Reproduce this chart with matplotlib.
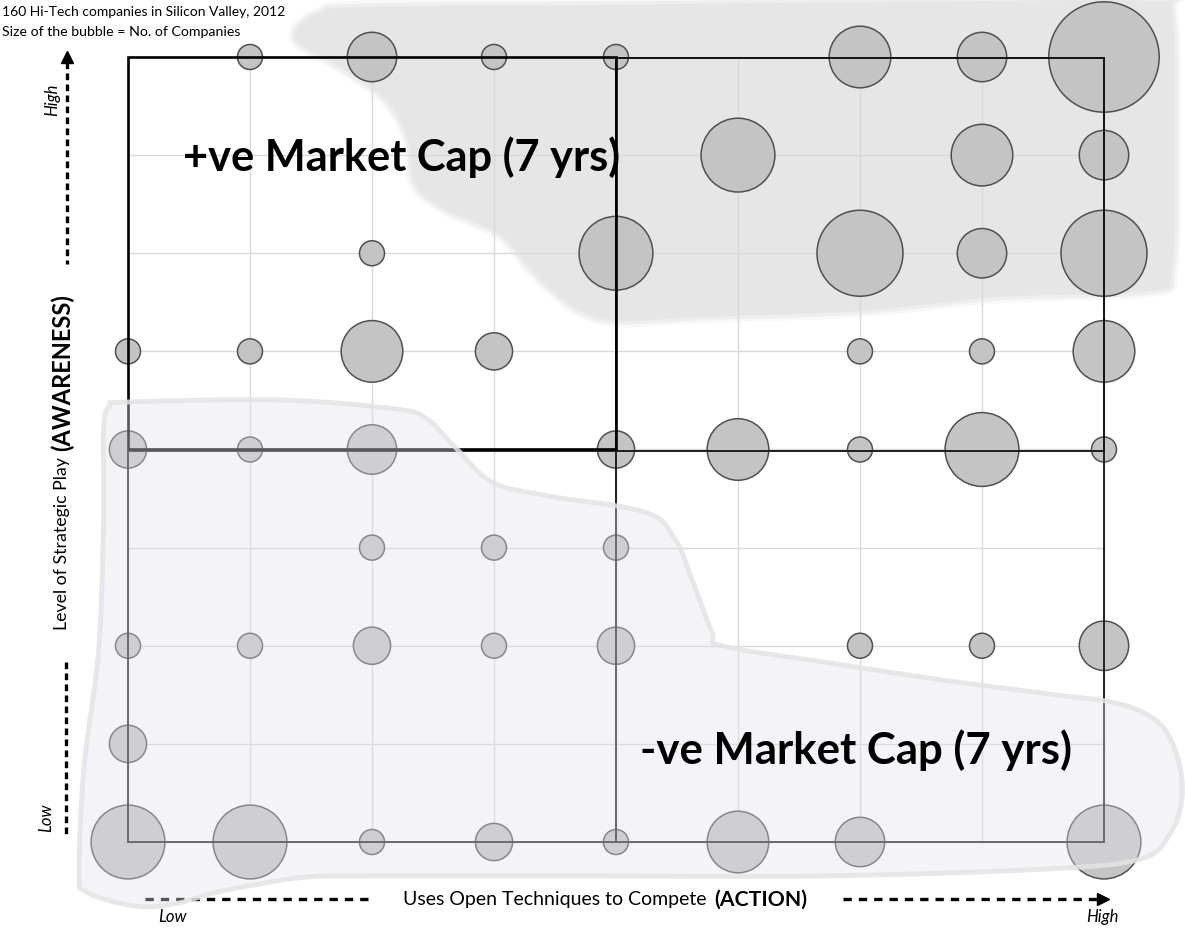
import numpy as np
import matplotlib
matplotlib.use("Agg")
import matplotlib.pyplot as plt
from matplotlib.patches import Polygon, Rectangle
from matplotlib.lines import Line2D

plt.rcParams['font.family'] = ['Lato', 'DejaVu Sans']

# ---- data: one bubble per (action level, awareness level) cell ----
action = [2, 3, 4, 5, 7, 8, 9,
          6, 8, 9,
          3, 5, 7, 8, 9,
          1, 2, 3, 4, 7, 8, 9,
          1, 2, 3, 5, 6, 7, 8, 9,
          3, 4, 5,
          1, 2, 3, 4, 5, 7, 8, 9,
          1,
          1, 2, 3, 4, 5, 6, 7, 9]
awareness = [9, 9, 9, 9, 9, 9, 9,
             8, 8, 8,
             7, 7, 7, 7, 7,
             6, 6, 6, 6, 6, 6, 6,
             5, 5, 5, 5, 5, 5, 5, 5,
             4, 4, 4,
             3, 3, 3, 3, 3, 3, 3, 3,
             2,
             1, 1, 1, 1, 1, 1, 1, 1]
companies = [1, 3, 1, 1, 4, 3, 8,
             5, 4, 3,
             1, 5, 6, 3, 6,
             1, 1, 4, 2, 1, 1, 4,
             2, 1, 3, 2, 4, 1, 5, 1,
             1, 1, 1,
             1, 1, 2, 1, 2, 1, 1, 3,
             2,
             5, 5, 1, 2, 1, 4, 3, 5]
levels = list(range(1, 10))

title_lines = ["160 Hi-Tech companies in Silicon Valley, 2012",
               "Size of the bubble = No. of Companies"]
quad_pos = "+ve Market Cap (7 yrs)"
quad_neg = "-ve Market Cap (7 yrs)"
x_label = ("Uses Open Techniques to Compete", "(ACTION)")
y_label = ("Level of Strategic Play", "(AWARENESS)")

# outlines of the two shaded zones, in grid units
upper_zone_x = [2.385, 2.574, 2.902, 4.869, 7.328, 9.377, 9.557, 9.582, 9.557, 9.377,
                8.148, 7.0, 5.689, 5.033, 4.705, 4.467, 4.279, 4.041, 3.598, 3.352,
                3.295, 3.107, 2.738, 2.410]
upper_zone_y = [9.285, 9.448, 9.510, 9.530, 9.561, 9.571, 9.438, 8.062, 6.839, 6.615,
                6.554, 6.411, 6.350, 6.310, 6.411, 6.636, 6.870, 7.196, 7.451, 7.706,
                8.164, 8.572, 8.898, 9.132]
lower_zone_x = [0.85, 1.0, 2.254, 3.197, 3.451, 3.672, 3.984, 4.451, 5.238, 5.484,
                5.631, 5.787, 5.877, 6.705, 7.623, 8.557, 9.131, 9.459, 9.607, 9.639,
                9.541, 9.303, 8.541, 6.705, 4.869, 3.0, 2.467, 2.033, 1.705, 1.377,
                1.049, 0.660, 0.600, 0.640, 0.760, 0.800, 0.800]
lower_zone_y = [5.443, 5.484, 5.504, 5.413, 5.311, 5.036, 4.669, 4.526, 4.363, 4.088,
                3.650, 3.140, 2.997, 2.834, 2.661, 2.508, 2.406, 2.203, 1.846, 1.438,
                1.082, 0.827, 0.725, 0.654, 0.654, 0.654, 0.643, 0.561, 0.481, 0.368,
                0.348, 0.490, 0.700, 1.775, 2.967, 4.292, 5.209]


def smooth_closed(xs, ys, n=24):
    """Closed Catmull-Rom curve through the given vertices."""
    p = np.column_stack([xs, ys])
    m = len(p)
    out = []
    for i in range(m):
        p0, p1, p2, p3 = p[(i - 1) % m], p[i], p[(i + 1) % m], p[(i + 2) % m]
        t = np.linspace(0, 1, n, endpoint=False)[:, None]
        t2, t3 = t * t, t * t * t
        seg = 0.5 * ((2 * p1) + (-p0 + p2) * t + (2 * p0 - 5 * p1 + 4 * p2 - p3) * t2
                     + (-p0 + 3 * p1 - 3 * p2 + p3) * t3)
        out.append(seg)
    return np.vstack(out)


W, H = 1185, 929
fig = plt.figure(figsize=(W / 100, H / 100), dpi=100)
ax = fig.add_axes([0, 0, 1, 1])
ax.set_xlim(-0.049, 9.664)
ax.set_ylim(0.1236, 9.591)
ax.axis('off')


def fpos(x, y):
    return x / W, 1 - y / H


# shaded zone behind the upper-right cluster (soft edge from stacked strokes)
up = smooth_closed(upper_zone_x, upper_zone_y)
for lw, a in [(9, 0.25), (5, 0.5)]:
    ax.add_patch(Polygon(up, closed=True, fill=False, edgecolor='#e6e6e6',
                         lw=lw, alpha=a, zorder=0))
ax.add_patch(Polygon(up, closed=True, facecolor='#e6e6e6', edgecolor='none', zorder=0))

# light grid
for v in levels:
    ax.plot([v, v], [1, 9], color='#d9d9d9', lw=1.0, zorder=1)
    ax.plot([1, 9], [v, v], color='#d9d9d9', lw=1.0, zorder=1)

# bubbles: radius grows linearly with the number of companies
radius_px = 6.4 + 6.1 * np.array(companies)
sizes = (2 * radius_px * 0.72) ** 2
ax.scatter(action, awareness, s=sizes, facecolor='#c4c4c4', edgecolor='#505050',
           linewidth=1.1, zorder=3)

# quadrant frames
ax.add_patch(Rectangle((5, 4.985), 4, 4.0, fill=False, edgecolor='#111111', lw=1.4, zorder=4))
ax.add_patch(Rectangle((1, 1), 4, 3.985, fill=False, edgecolor='#222222', lw=1.4, zorder=4))
ax.add_patch(Rectangle((5, 1), 4, 3.985, fill=False, edgecolor='#222222', lw=1.4, zorder=4))
ax.add_patch(Rectangle((1, 5), 4, 4, fill=False, edgecolor='black', lw=1.9, zorder=4))

# translucent zone over the lower-left cluster
lo = smooth_closed(lower_zone_x, lower_zone_y)
ax.add_patch(Polygon(lo, closed=True, facecolor=(0.88, 0.88, 0.93), edgecolor='none',
                     alpha=0.38, zorder=6))
ax.add_patch(Polygon(lo, closed=True, fill=False, edgecolor='#e4e4e4', lw=3.5,
                     alpha=0.85, zorder=6))

# dashed axis arrows
dash_kw = dict(color='black', lw=2.4, transform=fig.transFigure, solid_capstyle='butt',
               dash_capstyle='butt')
x0, y0 = fpos(67, 63)
x1, y1 = fpos(67, 265)
fig.add_artist(Line2D([x0, x1], [y0, y1], linestyle=(0, (2.0, 1.3)), zorder=5, **dash_kw))
x0, y0 = fpos(66, 663)
x1, y1 = fpos(66, 835)
fig.add_artist(Line2D([x0, x1], [y0, y1], linestyle=(0, (2.0, 1.3)), zorder=5, **dash_kw))
x0, y0 = fpos(145, 900)
x1, y1 = fpos(373, 900)
ax.add_line(Line2D([x0, x1], [y0, y1], linestyle=(0, (2.5, 2.1)), zorder=5, **dash_kw))
x0, y0 = fpos(843, 900)
x1, y1 = fpos(1100, 900)
fig.add_artist(Line2D([x0, x1], [y0, y1], linestyle=(0, (2.5, 2.1)), zorder=5, **dash_kw))
fig.add_artist(Line2D([fpos(67, 58)[0]], [fpos(67, 58)[1]], marker='^', markersize=9,
                      color='black', transform=fig.transFigure, zorder=7))
fig.add_artist(Line2D([fpos(1103, 900)[0]], [fpos(1103, 900)[1]], marker='>', markersize=9,
                      color='black', transform=fig.transFigure, zorder=7))

# text
tkw = dict(transform=fig.transFigure, zorder=10)
fig.text(*fpos(2, 12), title_lines[0], fontsize=10.0, ha='left', va='center', **tkw)
fig.text(*fpos(2, 32), title_lines[1], fontsize=10.2, ha='left', va='center', **tkw)
fig.text(*fpos(183, 157), quad_pos, fontsize=31.2, fontweight='bold', ha='left',
         va='center', **tkw)
fig.text(*fpos(640, 750), quad_neg, fontsize=31.5, fontweight='bold', ha='left',
         va='center', **tkw)

renderer = fig.canvas.get_renderer()

# axis captions: regular words followed by the bold keyword
t = fig.text(*fpos(403, 900), x_label[0], fontsize=14.0, ha='left', va='center', **tkw)
bb = t.get_window_extent(renderer)
fig.text((bb.x1 + 8) / W, 1 - 900 / H, x_label[1], fontsize=15.3, fontweight='bold',
         ha='left', va='center', **tkw)

t = fig.text(*fpos(62, 630), y_label[0], fontsize=12.8, rotation=90,
             ha='center', va='bottom', **tkw)
bb = t.get_window_extent(renderer)
fig.text(62 / W, (bb.y1 + 6) / H, y_label[1], fontsize=17.0, fontweight='bold',
         rotation=90, ha='center', va='bottom', **tkw)

fig.text(*fpos(52, 100), "High", fontsize=12, style='italic', rotation=90,
         ha='center', va='center', **tkw)
fig.text(*fpos(46, 818), "Low", fontsize=12, style='italic', rotation=90,
         ha='center', va='center', **tkw)
fig.text(*fpos(172, 917), "Low", fontsize=12, style='italic', ha='center',
         va='center', **tkw)
fig.text(*fpos(1102, 917), "High", fontsize=12, style='italic', ha='center',
         va='center', **tkw)

fig.savefig("out.png", dpi=100)
